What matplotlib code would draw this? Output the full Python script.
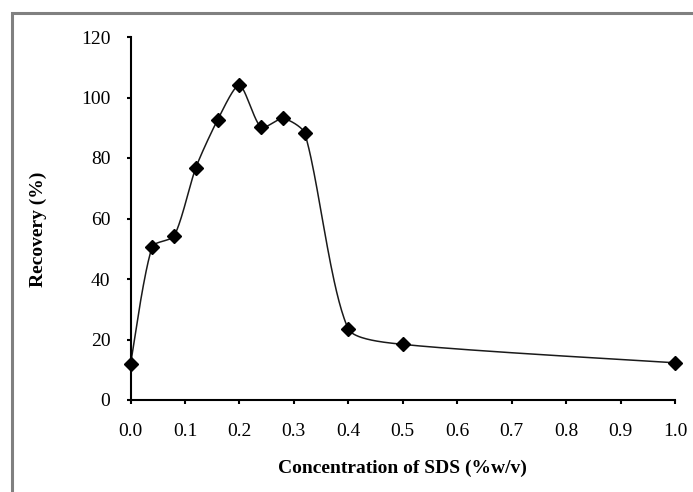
import numpy as np
import matplotlib
matplotlib.use("Agg")
import matplotlib.pyplot as plt
from matplotlib.patches import Rectangle

# Data
sds_conc = [0.0, 0.04, 0.08, 0.12, 0.16, 0.20, 0.24, 0.28, 0.32, 0.40, 0.50, 1.0]
recovery = [11.8, 50.7, 54.2, 76.8, 92.6, 104.1, 90.1, 93.1, 88.2, 23.5, 18.4, 12.3]
x_ticks = [0.0, 0.1, 0.2, 0.3, 0.4, 0.5, 0.6, 0.7, 0.8, 0.9, 1.0]
y_ticks = [0, 20, 40, 60, 80, 100, 120]

plt.rcParams['font.family'] = ['Liberation Serif', 'DejaVu Serif']

fig = plt.figure(figsize=(6.93, 4.92), dpi=100)
fig.patch.set_facecolor('white')
ax = fig.add_axes([130.5/693, 92/492, 544.5/693, 363/492])
ax.set_xlim(0, 1.0)
ax.set_ylim(0, 120)

# Smoothed line (Bezier in display space with length-adapted tangents)
pts = ax.transData.transform(np.column_stack([sds_conc, recovery]))
n = len(pts)
curve = []
k = 0.12
for i in range(n - 1):
    p0 = pts[max(i - 1, 0)]
    p1 = pts[i]
    p2 = pts[i + 1]
    p3 = pts[min(i + 2, n - 1)]
    d01 = np.linalg.norm(p1 - p0)
    d12 = np.linalg.norm(p2 - p1)
    d23 = np.linalg.norm(p3 - p2)
    f1 = 2 * d12 / (d01 + d12) if d01 > 0 else 1.0
    f2 = 2 * d12 / (d12 + d23) if d23 > 0 else 1.0
    c1 = p1 + (p2 - p0) * k * f1
    c2 = p2 - (p3 - p1) * k * f2
    t = np.linspace(0, 1, 40)[:, None]
    seg = ((1 - t) ** 3) * p1 + 3 * ((1 - t) ** 2) * t * c1 + 3 * (1 - t) * t ** 2 * c2 + t ** 3 * p2
    curve.append(seg if i == 0 else seg[1:])
curve = np.vstack(curve)
curve_data = ax.transData.inverted().transform(curve)
ax.plot(curve_data[:, 0], curve_data[:, 1], color='#1a1a1a', lw=1.1, zorder=2, clip_on=False)
ax.plot(sds_conc, recovery, linestyle='none', marker='D', ms=7, color='black', zorder=3, clip_on=False)

for s in ['top', 'right']:
    ax.spines[s].set_visible(False)
for s in ['left', 'bottom']:
    ax.spines[s].set_linewidth(1.5)
    ax.spines[s].set_color('black')

ax.set_xticks(x_ticks)
ax.set_xticklabels([f"{v:.1f}" for v in x_ticks])
ax.set_yticks(y_ticks)
ax.set_yticklabels([str(v) for v in y_ticks])
ax.tick_params(axis='x', direction='out', length=3, width=1.5, labelsize=14, pad=13.5, colors='black')
ax.tick_params(axis='y', direction='out', length=3, width=1.5, labelsize=14, pad=11.5, colors='black')

fig.text(402.5/693, 1 - 468/492, 'Concentration of SDS (%w/v)', ha='center', va='center',
         fontsize=14, fontweight='bold')
fig.text(38/693, 1 - 229/492, 'Recovery (%)', ha='center', va='center', rotation=90,
         fontsize=14, fontweight='bold')

# Gray frame
x0 = 11.5/693
ytop = 1 - 12.5/492
fig.add_artist(Rectangle((x0, -0.1), 1.2, ytop + 0.1, transform=fig.transFigure,
                         fill=False, edgecolor='#808080', linewidth=2.2))

fig.savefig('out.png', dpi=100)
